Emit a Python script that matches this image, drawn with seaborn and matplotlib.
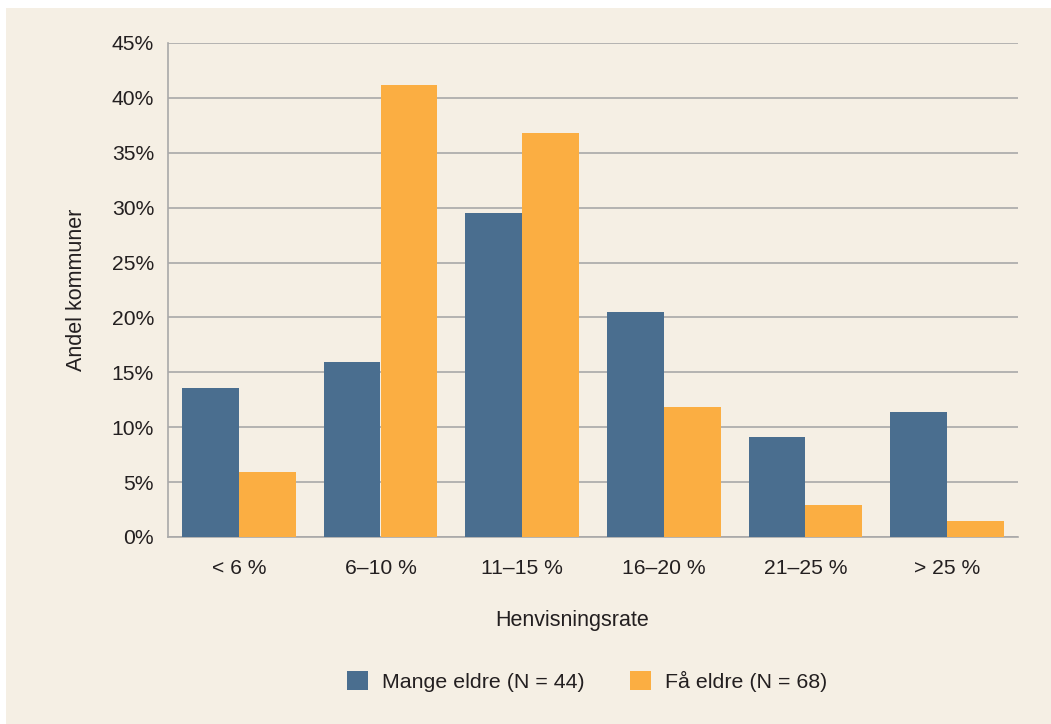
import matplotlib
matplotlib.use("Agg")
import matplotlib.pyplot as plt
import matplotlib.patches as mpatches
from matplotlib.ticker import MultipleLocator, FuncFormatter
import seaborn as sns
import pandas as pd

categories = ["< 6 %", "6–10 %", "11–15 %", "16–20 %", "21–25 %", "> 25 %"]
mange_eldre = [13.6, 15.9, 29.5, 20.5, 9.1, 11.4]
faa_eldre = [5.9, 41.2, 36.8, 11.8, 2.9, 1.5]
series_names = ["Mange eldre (N = 44)", "Få eldre (N = 68)"]

BG = "#F5EFE4"
BLUE = "#4A6E8F"
ORANGE = "#FBAE42"
GRID = "#A9A9A9"
TEXT = "#231F20"
TICK_FS = 15.2
LABEL_FS = 15.5
LEGEND_FS = 15.4

df = pd.DataFrame({
    "kategori": categories * 2,
    "andel": mange_eldre + faa_eldre,
    "gruppe": [series_names[0]] * len(categories) + [series_names[1]] * len(categories),
})

sns.set_theme(style="white")
plt.rcParams["font.family"] = ["Liberation Sans", "DejaVu Sans"]

fig = plt.figure(figsize=(10.51, 7.24), dpi=100)
fig.patch.set_facecolor("white")
fig.patches.append(mpatches.Rectangle((6 / 1051, 0), 1, 1 - 8 / 724,
                                      transform=fig.transFigure, facecolor=BG,
                                      edgecolor="none", zorder=-10))

ax = fig.add_axes([168 / 1051, 1 - 537 / 724, (1018 - 168) / 1051, (537 - 43) / 724])
ax.set_facecolor(BG)

sns.barplot(data=df, x="kategori", y="andel", hue="gruppe", order=categories,
            hue_order=series_names, palette=[BLUE, ORANGE], width=0.8,
            saturation=1, ax=ax, zorder=3, edgecolor="none", linewidth=0)

ax.set_ylim(0, 45)
ax.set_xlim(-0.5, len(categories) - 0.5)
ax.yaxis.set_major_locator(MultipleLocator(5))
ax.yaxis.set_major_formatter(FuncFormatter(lambda v, p: f"{int(round(v))}%"))
ax.grid(axis="y", color=GRID, linewidth=1.2, zorder=0)
ax.set_axisbelow(True)

for side in ["top", "right"]:
    ax.spines[side].set_visible(False)
for side in ["left", "bottom"]:
    ax.spines[side].set_color(GRID)
    ax.spines[side].set_linewidth(1.2)

ax.tick_params(axis="y", length=0, pad=10, labelsize=TICK_FS, labelcolor=TEXT)
ax.tick_params(axis="x", length=0, pad=16, labelsize=TICK_FS, labelcolor=TEXT)

ax.set_xlabel("Henvisningsrate", fontsize=LABEL_FS, color=TEXT, labelpad=23, x=0.475)
ax.set_ylabel("Andel kommuner", fontsize=LABEL_FS, color=TEXT, labelpad=17.5)

handles, labels = ax.get_legend_handles_labels()
ax.legend(handles, labels, loc="center", bbox_to_anchor=(587 / 1051, 1 - 681 / 724),
          bbox_transform=fig.transFigure, ncol=2, frameon=False, fontsize=LEGEND_FS,
          handlelength=0.98, handleheight=0.98, handletextpad=0.65, columnspacing=2.1,
          labelcolor=TEXT)

fig.savefig("out.png", dpi=100, facecolor=fig.get_facecolor())
